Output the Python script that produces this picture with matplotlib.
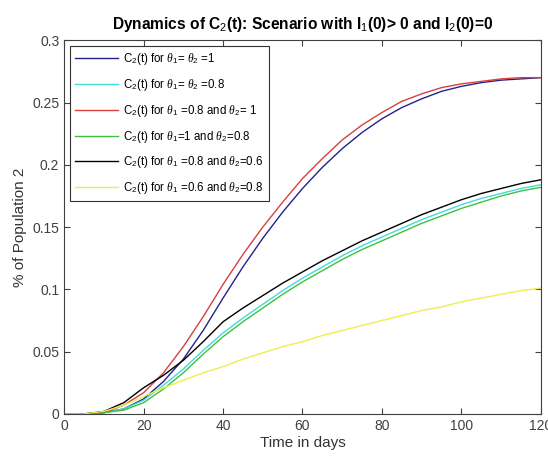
import matplotlib
matplotlib.use('Agg')
import matplotlib.pyplot as plt

plt.rcParams['font.family'] = ['Liberation Sans', 'DejaVu Sans']
plt.rcParams['mathtext.fontset'] = 'custom'
plt.rcParams['mathtext.rm'] = 'Liberation Sans'
plt.rcParams['mathtext.it'] = 'Liberation Serif:italic'

# Time in days
t = [0, 5, 10, 15, 20, 25, 30, 35, 40, 45, 50, 55, 60,
     65, 70, 75, 80, 85, 90, 95, 100, 105, 110, 115, 120]

# C2(t) for each (theta1, theta2) scenario
c_11 = [0, 0, 0.001, 0.004, 0.012, 0.026, 0.044, 0.067, 0.093, 0.118, 0.141, 0.162, 0.181,
        0.198, 0.213, 0.226, 0.237, 0.246, 0.253, 0.259, 0.263, 0.266, 0.268, 0.269, 0.270]
c_0808 = [0, 0, 0.001, 0.004, 0.011, 0.023, 0.036, 0.051, 0.065, 0.077, 0.088, 0.099, 0.109,
          0.118, 0.127, 0.135, 0.142, 0.149, 0.156, 0.162, 0.168, 0.173, 0.177, 0.181, 0.184]
c_081 = [0, 0, 0.001, 0.007, 0.017, 0.033, 0.054, 0.078, 0.104, 0.128, 0.150, 0.170, 0.189,
         0.205, 0.220, 0.232, 0.242, 0.251, 0.257, 0.262, 0.265, 0.267, 0.269, 0.270, 0.270]
c_108 = [0, 0, 0.001, 0.003, 0.009, 0.020, 0.033, 0.048, 0.062, 0.074, 0.085, 0.096, 0.106,
         0.115, 0.124, 0.132, 0.139, 0.146, 0.153, 0.159, 0.165, 0.170, 0.175, 0.179, 0.182]
c_0806 = [0, 0, 0.002, 0.009, 0.021, 0.031, 0.043, 0.058, 0.074, 0.085, 0.095, 0.105, 0.114,
          0.123, 0.131, 0.139, 0.146, 0.153, 0.160, 0.166, 0.172, 0.177, 0.181, 0.185, 0.188]
c_0608 = [0, 0, 0.002, 0.007, 0.014, 0.021, 0.027, 0.033, 0.038, 0.044, 0.049, 0.054, 0.058,
          0.063, 0.067, 0.071, 0.075, 0.079, 0.083, 0.086, 0.090, 0.093, 0.096, 0.099, 0.101]

series = [
    (c_11, '#22228a', r'C$_2$(t) for $\theta_1$= $\theta_2$ =1'),
    (c_0808, '#40dcdc', r'C$_2$(t) for $\theta_1$= $\theta_2$ =0.8'),
    (c_081, '#d84040', r'C$_2$(t) for $\theta_1$ =0.8 and $\theta_2$= 1'),
    (c_108, '#40c040', r'C$_2$(t) for $\theta_1$=1 and $\theta_2$=0.8'),
    (c_0806, '#000000', r'C$_2$(t) for $\theta_1$ =0.8 and $\theta_2$=0.6'),
    (c_0608, '#eeee50', r'C$_2$(t) for $\theta_1$ =0.6 and $\theta_2$=0.8'),
]

fig = plt.figure(figsize=(5.48, 4.63), dpi=100)
ax = fig.add_axes([0.117, 0.106, 0.870, 0.807])

for vals, col, lab in series:
    ax.plot(t, vals, color=col, linewidth=1.0, label=lab)

ax.set_xlim(0, 120)
ax.set_ylim(0, 0.3)
ax.set_xticks([0, 20, 40, 60, 80, 100, 120])
ax.set_yticks([0, 0.05, 0.1, 0.15, 0.2, 0.25, 0.3])
ax.set_yticklabels(['0', '0.05', '0.1', '0.15', '0.2', '0.25', '0.3'])
ax.tick_params(direction='in', top=True, right=True, labelsize=10,
               colors='#404040', length=4, width=0.8)
for s in ax.spines.values():
    s.set_color('#404040')
    s.set_linewidth(0.8)

ax.set_xlabel('Time in days', fontsize=11, color='#333333', labelpad=2)
ax.set_ylabel('% of Population 2', fontsize=11, color='#333333', labelpad=4)
ax.set_title(r'Dynamics of C$_2$(t): Scenario with I$_1$(0)> 0 and I$_2$(0)=0',
             fontsize=11.2, fontweight='bold', pad=8)

leg = ax.legend(loc='upper left', fontsize=8.3, handlelength=3.7, fancybox=False,
                edgecolor='#333333', framealpha=1, borderaxespad=0.5,
                labelspacing=0.85, handletextpad=0.5, borderpad=0.45)
leg.get_frame().set_linewidth(0.8)

plt.savefig('out.png', dpi=100)
